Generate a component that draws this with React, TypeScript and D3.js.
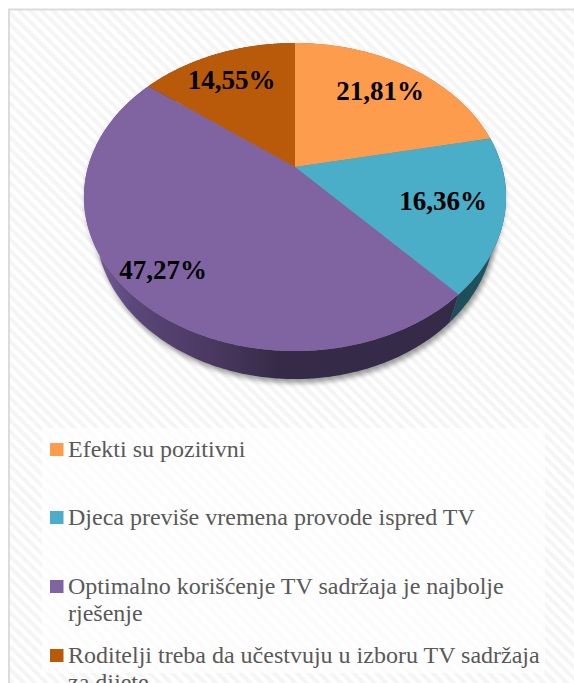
import React from "react";
import * as d3 from "d3";

const categories = [
  "Efekti su pozitivni",
  "Djeca previše vremena provode ispred TV",
  "Optimalno korišćenje TV sadržaja je najbolje rješenje",
  "Roditelji treba da učestvuju u izboru TV sadržaja za dijete",
];
const values = [21.81, 16.36, 47.27, 14.55];
const valueLabels = ["21,81%", "16,36%", "47,27%", "14,55%"];
const topColors = ["#FD9C4D", "#4BAEC9", "#8064A2", "#B9590A"];
const sideColors = ["#a8602a", "url(#tealSide)", "url(#purpleSide)", "#7a3b06"];
const legendLines = [
  ["Efekti su pozitivni"],
  ["Djeca previše vremena provode ispred TV"],
  ["Optimalno korišćenje TV sadržaja je najbolje", "rješenje"],
  ["Roditelji treba da učestvuju u izboru TV sadržaja", "za dijete"],
];

const W = 574;
const H = 683;
const CX = 295;
const CY = 167;
const R = 207;
const K = 0.195;
const A = -115.6;
const DEPTH = 28;
const BOTTOM_SCALE = 0.945;
const labelAnchors: [number, number][] = [[380, 100], [443, 210], [163, 279], [231.5, 89]];
const legendMarkerY = [443, 511, 580, 649];

function project(a: number) {
  const X = Math.sin(a);
  const Y = Math.cos(a);
  const w = 1 + K * Y;
  return [CX + (R * X) / w, (A * Y + CY) / w] as [number, number];
}
function projectBottom(a: number) {
  const [x, y] = project(a);
  return [CX + (x - CX) * BOTTOM_SCALE, y + DEPTH] as [number, number];
}
const samples = (s: number, e: number) => {
  const n = Math.max(2, Math.ceil((e - s) / 0.01));
  return d3.range(n + 1).map((i) => s + ((e - s) * i) / n);
};
const line = d3.line();

const arcs = d3.pie<number>().sort(null).startAngle(0).endAngle(2 * Math.PI)(values);

const topPath = (s: number, e: number) =>
  line([[CX, CY], ...samples(s, e).map(project)]) + "Z";
const sidePath = (s: number, e: number) =>
  line([...samples(s, e).map(project), ...samples(s, e).reverse().map(projectBottom)]) + "Z";
const fullBottom = line(samples(0, 2 * Math.PI).map(projectBottom)) + "Z";
const fullTop = line(samples(0, 2 * Math.PI).map(project)) + "Z";

export default function App() {
  return (
    <svg
      width={W}
      height={H}
      viewBox={`0 0 ${W} ${H}`}
      style={{ position: "fixed", left: 0, top: 0, display: "block", background: "#fff" }}
    >
      <defs>
        <pattern id="stripes" width="8" height="8" patternUnits="userSpaceOnUse" patternTransform="rotate(45)">
          <rect width="8" height="8" fill="#ffffff" />
          <rect width="8" height="4" fill="#f5f5f5" />
        </pattern>
        <pattern id="stripesLight" width="8" height="8" patternUnits="userSpaceOnUse" patternTransform="rotate(45)">
          <rect width="8" height="8" fill="#ffffff" />
          <rect width="8" height="4" fill="#fcfcfc" />
        </pattern>
        <linearGradient id="purpleSide" gradientUnits="userSpaceOnUse" x1="98" x2="460" y1="0" y2="0">
          <stop offset="0" stopColor="#745b97" />
          <stop offset="0.1" stopColor="#5b4679" />
          <stop offset="0.32" stopColor="#4a3860" />
          <stop offset="0.5" stopColor="#352a47" />
          <stop offset="1" stopColor="#352a47" />
        </linearGradient>
        <linearGradient id="tealSide" gradientUnits="userSpaceOnUse" x1="450" x2="500" y1="0" y2="0">
          <stop offset="0" stopColor="#1d4d58" />
          <stop offset="1" stopColor="#1f5562" />
        </linearGradient>
        <filter id="blur" x="-10%" y="-10%" width="120%" height="120%">
          <feGaussianBlur stdDeviation="2.5" />
        </filter>
      </defs>

      <rect x={9} y={9.5} width={W} height={H} fill="url(#stripes)" stroke="#dcdcdc" strokeWidth={2} />
      <rect x={42} y={428} width={503} height={245} fill="url(#stripesLight)" />

      <path d={fullBottom} transform="translate(2,4)" fill="#000" opacity={0.38} filter="url(#blur)" />
      <path d={fullTop} transform="translate(0,3)" fill="#000" opacity={0.18} filter="url(#blur)" />

      {arcs.map((d, i) => (
        <path key={"s" + i} d={sidePath(d.startAngle, d.endAngle)} fill={sideColors[i]} />
      ))}
      {arcs.map((d, i) => (
        <path key={"t" + i} d={topPath(d.startAngle, d.endAngle)} fill={topColors[i]} />
      ))}

      {valueLabels.map((t, i) => (
        <text
          key={t}
          x={labelAnchors[i][0]}
          y={labelAnchors[i][1]}
          textAnchor="middle"
          fontFamily="'Liberation Serif'"
          fontWeight="bold"
          fontSize={27}
          fill="#000"
        >
          {t}
        </text>
      ))}

      {categories.map((c, i) => (
        <g key={c}>
          <rect x={50} y={legendMarkerY[i]} width={13.5} height={13} fill={topColors[i]} />
          {legendLines[i].map((l, j) => (
            <text
              key={l}
              x={68}
              y={legendMarkerY[i] + 14 + j * 26.5}
              fontFamily="'Liberation Serif'"
              fontSize={24}
              fill="#595959"
            >
              {l}
            </text>
          ))}
        </g>
      ))}
    </svg>
  );
}
